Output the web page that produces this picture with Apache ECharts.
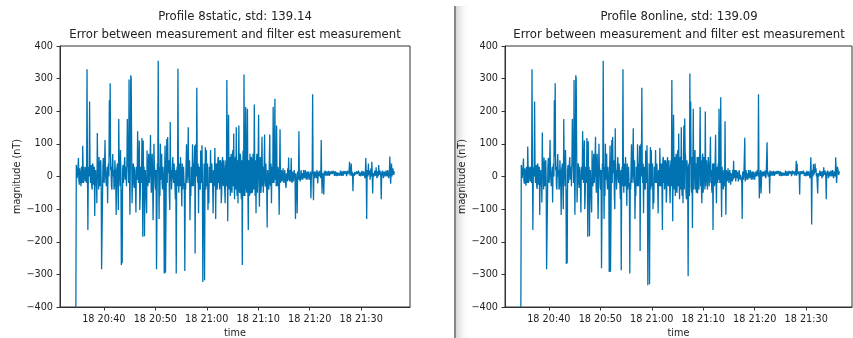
<!DOCTYPE html>
<html>
<head>
<meta charset="utf-8">
<script src="https://cdn.jsdelivr.net/npm/echarts@6/dist/echarts.min.js"></script>
<style>
  html, body { margin: 0; padding: 0; background: #fff; }
  #main { width: 853px; height: 338px; }
</style>
</head>
<body>
<div id="main"></div>
<script>
// titles
const leftTitle = 'Profile 8static, std: 139.14';
const rightTitle = 'Profile 8online, std: 139.09';
const subTitle = 'Error between measurement and filter est measurement';

// time in seconds since midnight, one sample every 5 s from 20:34:34
const t0 = 74074;
const stepSec = 5;

// x ticks
const tickTimes = [74400, 75000, 75600, 76200, 76800, 77400];
const tickLabels = ['18 20:40', '18 20:50', '18 21:00', '18 21:10', '18 21:20', '18 21:30'];

// error values (nT), profile 8 static
const staticErr = [
  -400, 35, 40, -5, 10, 30, 57, -10, -25, 25, 20, -15, -30, 30, 15, -20, 94, 20, -20, 30, 25, 0, -15, 30,
  10, -20, 329, 20, -164, 10, 30, 0, 230, 30, -20, 20, 35, -30, -40, 40, 32, -25, -15, 30, -121, 10, 20, -30,
  -10, -82, 133, 10, 20, -40, 60, 10, -30, 40, 50, -10, -284, -280, -282, 30, 57, -10, -20, 40, 112, 10, 15, -30,
  10, 30, -82, 20, 40, 0, 234, 60, 286, 20, 30, -30, -40, 40, 69, 0, 20, -40, -30, 50, 45, -20, -118, 20,
  20, 40, -40, -103, 176, 20, 10, -30, 81, 10, -271, -40, -266, 20, 35, -20, -20, 40, 60, -10, 10, 30, -30, 40,
  176, 30, 60, -20, 297, 20, -117, 40, 310, 300, 100, -82, -20, 30, 40, -20, -35, 30, 25, -40, -110, 20, 30, -10,
  139, 20, -20, 40, 110, -103, -60, 30, 30, -20, 118, 10, -185, 110, -40, 30, -183, -20, 20, -30, -30, -113, 80, -20,
  -30, 40, 70, -20, 10, 50, 127, -10, -50, 40, 70, -20, -134, -40, 100, 30, 20, -30, -40, 20, -284, -280, 40, 20,
  355, 20, -130, 30, -60, 100, -10, 40, 70, -20, -40, 30, 30, -20, -297, 20, 95, -295, -290, 30, 115, -20, 121, 10,
  30, 50, -60, -103, 167, -10, 20, -40, -40, 30, 60, 0, -20, 40, 45, -30, -70, 20, -297, -20, 30, -30, 330, 20,
  -50, 40, 20, -30, 60, 10, -30, -92, 40, -40, -10, 30, 30, -50, -290, -20, -40, 40, 99, -20, -20, 30, 151, 0,
  -20, 50, -134, -40, -60, 30, 20, -30, 99, 10, -30, 40, 30, 95, -236, 30, 100, 0, 272, 20, -20, 40, -113, 20,
  30, -30, -40, 80, 60, -20, 96, 0, -323, -40, -60, 40, -318, -20, 90, -40, 81, 10, -30, 40, -103, -40, -82, 30,
  30, -20, 81, 10, -20, 40, 40, -30, -113, 20, 20, -30, 87, 10, -130, 30, 40, -40, -30, 50, 60, -20, 50, -40,
  -20, 50, 40, -82, -50, 40, 60, -20, -30, 50, 20, -40, -82, 30, 50, -30, 296, 40, -137, 30, 189, -20, -40, 60,
  -60, 40, 70, -40, -50, 60, 81, -30, 132, -20, -70, 50, 60, -40, 151, -30, -60, 50, -82, 40, 156, -40, -50, 70,
  60, -50, -70, 50, -271, 30, 80, -60, 313, 40, -60, 50, 213, -30, -50, 60, 208, -40, -164, 40, 50, -60, 70, -40,
  -52, 60, 50, -50, -40, 70, 60, -40, 221, 30, -60, 50, -113, 40, 70, -50, -50, 60, 189, -30, -93, 40, 60, -50,
  -40, 50, 122, -30, 30, -50, -50, 40, 129, -20, -31, 40, 40, -40, -156, 20, 20, -30, -40, 50, 129, -20, -30, 40,
  -82, 30, 30, -20, 213, 10, -20, 40, 238, -10, 40, -30, 156, 0, -30, 30, 20, -20, -117, 20, 145, -20, -10, 20,
  20, -15, -10, 25, 30, -20, -20, 20, 15, -25, -35, 10, 10, -15, 25, -10, 58, -5, -15, 20, 10, -15, 57, -5,
  -20, 15, 10, -15, 0, 20, 15, -10, -130, 10, 5, -20, -113, 15, 10, -10, 139, 0, 5, -15, -10, 20, 15, -10,
  10, -10, 0, 20, 15, -5, 5, 20, 20, -10, -5, 15, 10, -10, 15, 20, 5, -10, -10, 15, -67, 0, 10, 20,
  252, 0, -73, 15, 10, -5, 15, 20, 5, -5, 20, 0, -21, 15, 10, 0, 5, 18, 15, -5, 112, 5, -52, 10,
  10, 0, -55, 15, 5, 18, 12, 2, 8, 16, 10, 3, 6, 17, 12, 2, 9, 16, 7, 2, 11, 17, 8, 3,
  9, 17, 12, 2, 7, 16, 10, 1, 13, 17, 8, 2, 11, 16, 6, 3, 10, 18, 12, 2, 8, 16, 10, 2,
  10, 17, 8, 2, 12, 16, 9, 1, 11, 18, 7, 2, 10, 16, 45, 3, 5, 17, 40, 2, 15, 8, -45, 10,
  10, 2, 14, 17, 6, 1, 12, 16, 8, 2, 11, 18, 9, 2, 13, 16, 7, 1, 10, 17, 12, 2, 8, 16,
  10, 2, -5, 16, 57, 5, -130, 10, 20, 0, 40, 5, 0, 18, -10, 12, 25, 0, 45, 5, -52, 10, 15, 0,
  0, 18, 20, 2, 28, 5, -5, 16, 15, 0, 35, 5, 0, 18, 10, -2, -70, 10, 5, 18, 15, -5, -5, 15,
  10, 0, -5, 18, 15, 0, 0, 20, 20, -5, -10, 15, 61, 0, -22, 20, 40, 0, 15, 25, 25, 5, 12, 15
];

// error values (nT), profile 8 online
const onlineErr = [
  -400, 35, 38, -5, 12, 30, 55, -10, -22, 25, 18, -15, -28, 30, 15, -20, 92, 20, -20, 30, 22, 0, -15, 30,
  10, -20, 329, 20, -164, 10, 28, 0, 230, 30, -20, 20, 35, -30, -38, 40, 30, -25, -15, 30, -118, 10, 20, -30,
  -10, -80, 135, 10, 20, -40, 58, 10, -30, 40, 50, -10, -284, -280, -282, 30, 57, -10, -20, 40, 112, 10, 15, -30,
  10, 30, -80, 20, 40, 0, 234, 60, 286, 20, 30, -30, -40, 40, 69, 0, 20, -40, -30, 50, 45, -20, -118, 20,
  20, 40, -40, -100, 176, 20, 10, -30, 81, 10, -268, -40, -266, 20, 35, -20, -20, 40, 60, -10, 10, 30, -30, 40,
  176, 30, 60, -20, 296, 20, -117, 40, 310, 300, 100, -80, -20, 30, 40, -20, -35, 30, 25, -40, -110, 20, 30, -10,
  139, 20, -20, 40, 110, -100, -60, 30, 30, -20, 118, 10, -185, 108, -40, 30, -183, -20, 20, -30, -30, -110, 80, -20,
  -30, 40, 70, -20, 10, 50, 122, -10, -50, 40, 70, -20, -130, -40, 100, 30, 20, -30, -40, 20, -281, -278, 40, 20,
  355, 20, -130, 30, -60, 100, -10, 40, 70, -20, -40, 30, 30, -20, -293, 20, 95, -292, -288, 30, 112, -20, 121, 10,
  30, 50, -60, -100, 148, -10, 20, -40, -40, 30, 60, 0, -20, 40, 45, -30, -70, 20, -287, -20, 30, -30, 329, 20,
  -50, 40, 20, -30, 60, 10, -30, -90, 40, -40, -10, 30, 30, -50, -297, -20, -40, 40, 99, -20, -20, 30, 148, 0,
  -20, 50, -130, -40, -60, 30, 20, -30, 99, 10, -30, 40, 30, 95, -228, 30, 100, 0, 272, 20, -20, 40, -113, 20,
  30, -30, -40, 80, 60, -20, 96, 0, -333, -40, -60, 40, -330, -20, 90, -40, 81, 10, -30, 40, -100, -40, -82, 30,
  30, -20, 81, 10, -20, 40, 40, -30, -113, 20, 20, -30, 87, 10, -30, 30, 40, -40, -164, 50, 60, -20, 50, -40,
  -20, 50, 40, -80, -50, 40, 60, -20, -30, 50, 20, -40, -82, 30, 50, -30, 296, 40, -137, 30, 189, -20, -40, 60,
  -60, 40, 70, -40, -50, 60, 81, -30, 132, -20, -70, 50, 60, -40, 151, -30, -60, 50, -82, 40, 156, -40, 178, 70,
  60, -50, -70, 50, 30, -40, -306, 30, 40, -60, 316, 40, 230, -30, -50, 60, -158, 40, 208, -40, -40, 60, 81, -40,
  40, -50, -30, 60, -52, 50, 60, -40, -40, 70, 213, -30, 50, -40, -82, 60, 70, -50, -50, 60, 40, -40, 199, -30,
  -31, 50, 50, -40, -40, 60, 30, -30, -30, 50, 122, -20, 20, -40, -50, 40, -164, 30, 40, -30, -20, 50, 128, -20,
  -82, 30, 30, -20, 40, -10, 208, 20, -20, 40, 243, -10, -124, 30, 30, -20, -40, 20, 20, -30, 169, -20, -117, 20,
  20, -15, -10, 25, 25, -20, -15, 20, 10, -25, -31, 10, 15, -15, 20, -10, 48, -5, -10, 20, 10, -15, 20, -5,
  -10, 15, 10, -15, 0, 20, 15, -10, 5, 10, -5, -20, -130, 15, 10, -10, 5, 0, 119, -15, -10, 20, 15, -10,
  10, -10, 0, 20, 15, -5, 5, 20, 20, -10, -5, 15, 10, -10, 15, 20, 5, -10, -10, 15, 8, 0, 10, 20,
  10, 0, 252, 15, -67, -5, 10, 20, -52, -5, 15, 0, 5, 15, 10, 0, 8, 18, 15, -5, 10, 5, 105, 10,
  10, 0, 5, 15, -52, 18, 12, 2, 8, 16, 10, 3, 6, 17, 12, 2, 9, 16, 7, 2, 11, 17, 8, 3,
  9, 17, 12, 2, 7, 16, 10, 1, 13, 17, 8, 2, 11, 16, 6, 3, 10, 18, 12, 2, 8, 16, 10, 2,
  10, 17, 8, 2, 12, 16, 9, 1, 11, 18, 7, 2, 10, 16, 12, 3, 5, 17, 48, 2, 40, 8, 10, 16,
  10, 2, -55, 17, 6, 1, 12, 16, 8, 2, 11, 18, 9, 2, 13, 16, 7, 1, 10, 17, 12, 2, 8, 16,
  10, 2, -5, 16, 59, 5, -147, 10, 20, 0, 38, 5, 0, 18, 40, 12, 25, 0, 10, 5, -52, 10, 15, 0,
  0, 18, 20, 2, 15, 5, -5, 16, 15, 0, 28, 5, 0, 18, 10, -2, -70, 10, 5, 18, 15, -5, -5, 15,
  10, 0, -5, 18, 15, 0, 0, 20, 20, -5, -10, 15, 15, 0, 59, 20, -20, 0, 30, 25, 15, 5, 12, 15
];

let myChart = echarts.init(document.getElementById('main'));
const font = 'DejaVu Sans';
const lineColor = '#0173b2';
const textColor = '#222';
const xMin = 73889;

function toPoints(vals) {
    let pts = [];
    for (let i = 0; i < vals.length; i++) {
        pts.push([t0 + i * stepSec, vals[i]]);
    }
    return pts;
}

function makeGrid(left, width) {
    return {
        left: left, top: 46, width: width, height: 261,
        outerBoundsMode: 'none', containLabel: false,
        show: true, borderColor: '#333', borderWidth: 1
    };
}

function makeXAxis(gridIndex, max) {
    return {
        type: 'value', gridIndex: gridIndex, min: xMin, max: max,
        name: 'time', nameLocation: 'middle', nameGap: 20,
        nameTextStyle: { fontFamily: font, fontSize: 9.7, color: textColor },
        axisLine: { show: true, onZero: false, lineStyle: { color: '#333', width: 1 } },
        axisTick: { show: true, length: 3.5, customValues: tickTimes, lineStyle: { color: '#333' } },
        axisLabel: {
            customValues: tickTimes, margin: 7,
            fontFamily: font, fontSize: 9.7, color: textColor,
            formatter: function (v) { return tickLabels[tickTimes.indexOf(v)]; }
        },
        splitLine: { show: false }
    };
}

function makeYAxis(gridIndex) {
    return {
        type: 'value', gridIndex: gridIndex, min: -400, max: 400, interval: 100,
        name: 'magnitude (nT)', nameLocation: 'middle', nameGap: 38, nameRotate: 90,
        nameTextStyle: { fontFamily: font, fontSize: 9.7, color: textColor },
        axisLine: { show: true, lineStyle: { color: '#333', width: 1 } },
        axisTick: { show: true, length: 3.5, lineStyle: { color: '#333' } },
        axisLabel: {
            margin: 7, fontFamily: font, fontSize: 9.7, color: textColor,
            formatter: function (v) { return String(v).replace('-', '\u2212'); }
        },
        splitLine: { show: false }
    };
}

function makeTitle(x, main) {
    return {
        text: main + '\n' + subTitle, left: x, top: 8, padding: 0, textAlign: 'center',
        textStyle: { fontFamily: font, fontSize: 11.7, fontWeight: 'normal', color: textColor, lineHeight: 18 }
    };
}

function makeSeries(idx, vals) {
    return {
        type: 'line', xAxisIndex: idx, yAxisIndex: idx,
        data: toPoints(vals), showSymbol: false, symbol: 'none',
        lineStyle: { color: lineColor, width: 1.3 }, sampling: null,
        silent: true, animation: false
    };
}

var option = {
    animation: false,
    title: [makeTitle(235, leftTitle), makeTitle(679, rightTitle)],
    grid: [makeGrid(60, 350), makeGrid(505, 347)],
    xAxis: [makeXAxis(0, 77969), makeXAxis(1, 77934)],
    yAxis: [makeYAxis(0), makeYAxis(1)],
    series: [makeSeries(0, staticErr), makeSeries(1, onlineErr)],
    graphic: [
        {
            type: 'rect', z: -1, silent: true,
            shape: { x: 456, y: 6, width: 14, height: 332 },
            style: {
                fill: new echarts.graphic.LinearGradient(0, 0, 1, 0, [
                    { offset: 0, color: '#d6d6d6' },
                    { offset: 1, color: 'rgba(255,255,255,0)' }
                ])
            }
        },
        {
            type: 'line', z: -1, silent: true,
            shape: { x1: 455, y1: 6, x2: 455, y2: 338 },
            style: { stroke: '#888', lineWidth: 2 }
        }
    ]
};

myChart.setOption(option);
</script>
</body>
</html>
